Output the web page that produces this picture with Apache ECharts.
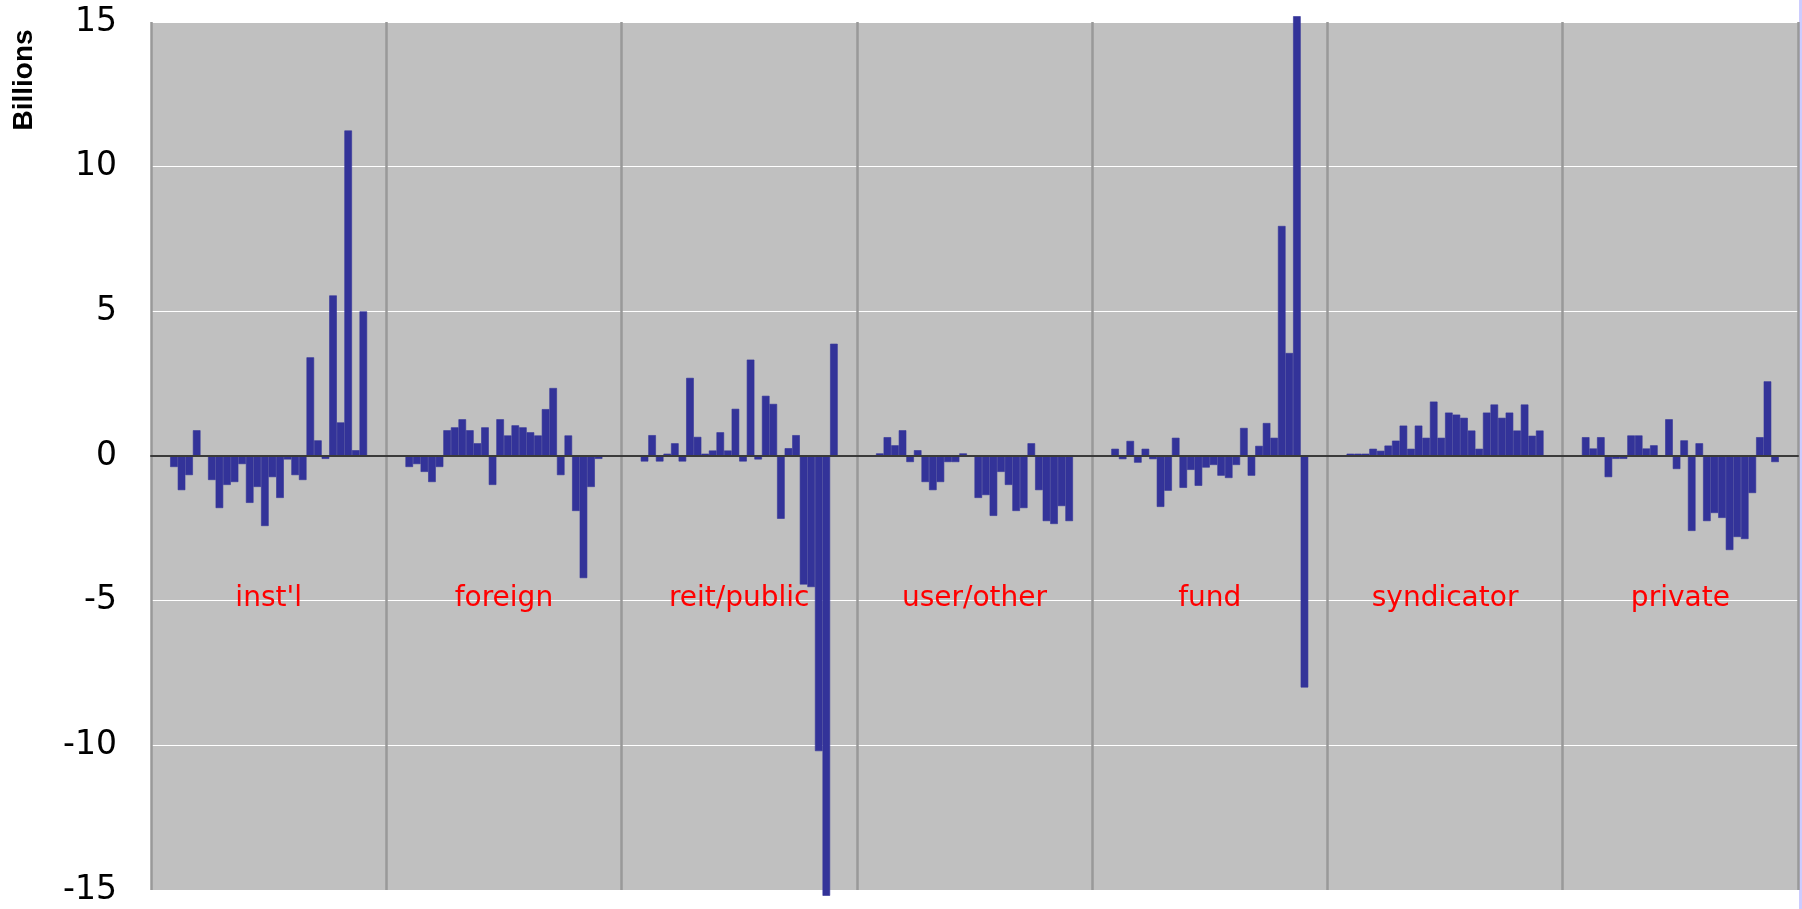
<!DOCTYPE html>
<html>
<head>
<meta charset="utf-8">
<title>Net acquisitions by investor type</title>
<script src="https://cdn.jsdelivr.net/npm/echarts@6/dist/echarts.min.js"></script>
<style>
  html, body { margin: 0; padding: 0; background: #fff; }
  #main { width: 1802px; height: 909px; }
</style>
</head>
<body>
<div id="main"></div>
<script>
// investor groups on the x axis
var groups = ["inst'l", 'foreign', 'reit/public', 'user/other', 'fund', 'syndicator', 'private']

// 26 periods per group, values in billions
var instl = [-0.38, -1.18, -0.66, 0.89, 0, -0.83, -1.8, -1.0, -0.9, -0.28, -1.62, -1.07, -2.42,
  -0.73, -1.45, -0.12, -0.66, -0.83, 3.41, 0.54, -0.1, 5.55, 1.16, 11.25, 0.2, 5.0]
var foreign = [-0.38, -0.28, -0.55, -0.9, -0.38, 0.89, 0.99, 1.27, 0.89, 0.44, 0.99, -1.0, 1.27,
  0.71, 1.06, 0.99, 0.82, 0.71, 1.62, 2.35, -0.66, 0.71, -1.9, -4.22, -1.07, -0.1]
var reitPublic = [-0.19, 0.72, -0.19, 0.08, 0.44, -0.19, 2.7, 0.66, 0.08, 0.19, 0.82, 0.19, 1.63,
  -0.19, 3.33, -0.12, 2.08, 1.8, -2.17, 0.27, 0.72, -4.44, -4.53, -10.2, -15.2, 3.88]
var userOther = [0.09, 0.65, 0.37, 0.89, -0.21, 0.2, -0.9, -1.18, -0.9, -0.21, -0.21, 0.09, 0,
  -1.45, -1.35, -2.07, -0.55, -1.0, -1.9, -1.8, 0.44, -1.18, -2.25, -2.35, -1.73, -2.25]
var fund = [0.25, -0.11, 0.52, -0.23, 0.25, -0.11, -1.76, -1.2, 0.63, -1.1, -0.48, -1.03, -0.4,
  -0.31, -0.68, -0.76, -0.31, 0.97, -0.68, 0.35, 1.14, 0.63, 7.95, 3.56, 15.2, -8.0]
var syndicator = [0.08, 0.08, 0.08, 0.25, 0.18, 0.36, 0.53, 1.05, 0.25, 1.05, 0.63, 1.88, 0.63,
  1.5, 1.43, 1.32, 0.88, 0.25, 1.5, 1.78, 1.32, 1.5, 0.88, 1.78, 0.7, 0.88]
var privateBuyers = [0.65, 0.26, 0.65, -0.73, -0.1, -0.1, 0.71, 0.71, 0.26, 0.37, 0, 1.27, -0.45,
  0.54, -2.59, 0.44, -2.25, -1.97, -2.14, -3.25, -2.8, -2.87, -1.28, 0.65, 2.58, -0.21]

// y axis ticks
var yTicks = [-15, -10, -5, 0, 5, 10, 15]

var myChart = echarts.init(document.getElementById('main'))

// one bar series per period, so every group holds 26 side by side bars
var byGroup = [instl, foreign, reitPublic, userOther, fund, syndicator, privateBuyers]
var series = []
for (var i = 0; i < instl.length; i++) {
  series.push({
    type: 'bar',
    name: 'p' + (i + 1),
    data: byGroup.map(function (g) { return g[i] }),
    barGap: '0%',
    barCategoryGap: '16.3%',
    clip: false,
    // thin border of the same colour closes the seams between neighbouring bars
    itemStyle: { color: '#333399', borderColor: '#333399', borderWidth: 0.6 }
  })
}

var option = {
  animation: false,
  backgroundColor: '#ffffff',
  grid: {
    left: 151,
    right: 4,
    top: 22,
    bottom: 19,
    containLabel: false,
    outerBoundsMode: 'none',
    show: true,
    backgroundColor: '#c0c0c0',
    borderWidth: 0
  },
  xAxis: {
    type: 'category',
    data: groups,
    z: 10,
    axisLine: { show: true, onZero: true, lineStyle: { color: '#3a3a3a', width: 2 } },
    axisTick: { show: false },
    splitLine: { show: true, lineStyle: { color: '#999999', width: 2.5 } },
    axisLabel: { show: false }
  },
  yAxis: {
    type: 'value',
    min: yTicks[0],
    max: yTicks[yTicks.length - 1],
    interval: 5,
    axisLine: { show: false },
    axisTick: { show: false },
    splitLine: { show: true, lineStyle: { color: '#ffffff', width: 1.2 } },
    axisLabel: {
      margin: 34,
      color: '#000000',
      fontSize: 33,
      fontFamily: 'DejaVu Sans'
    }
  },
  graphic: [
    {
      type: 'text',
      x: 24,
      y: 80,
      rotation: Math.PI / 2,
      style: {
        text: 'Billions',
        fill: '#000000',
        font: 'bold 28px "Liberation Sans", Arial, sans-serif',
        align: 'center',
        verticalAlign: 'middle'
      }
    },
    {
      type: 'rect',
      shape: { x: 1799, y: 0, width: 3, height: 909 },
      style: { fill: '#ccccff' },
      silent: true
    }
  ],
  series: series
}

myChart.setOption(option)

// red group names sit inside the plot, a bit below the -5 gridline
var labelValue = -4.92
var labels = groups.map(function (name, k) {
  var p = myChart.convertToPixel({ gridIndex: 0 }, [k, labelValue])
  return {
    type: 'text',
    x: p[0],
    y: p[1],
    z: 20,
    style: {
      text: name,
      fill: '#ff0000',
      font: '28px "DejaVu Sans", sans-serif',
      align: 'center',
      verticalAlign: 'middle'
    }
  }
})
myChart.setOption({ graphic: option.graphic.concat(labels) })
</script>
</body>
</html>
